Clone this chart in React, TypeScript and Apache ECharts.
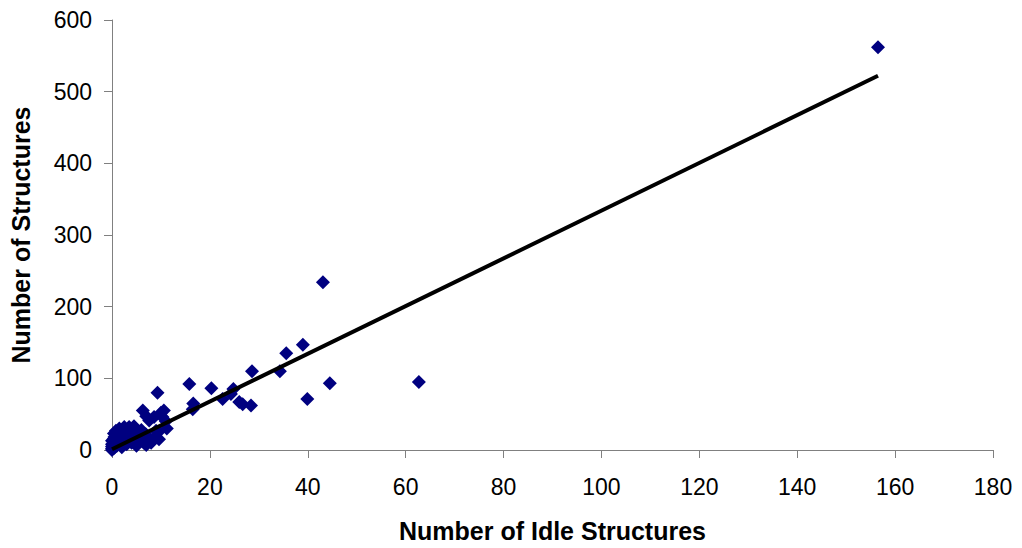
import React, { useEffect, useRef } from "react";
import * as echarts from "echarts";

// Number of Idle Structures (x) vs Number of Structures (y)
const idleStructures: number[] = [
  156.5, 43.1, 39.0, 35.6, 34.3, 28.6, 28.4, 44.5, 62.7, 39.9,
  15.8, 20.3, 24.8, 24.3, 22.6, 26.0, 26.7, 16.6, 16.5, 9.3,
  6.3, 10.0, 7.6, 8.6, 10.3, 7.0, 10.6, 11.0, 11.2, 9.0,
  9.6, 8.0, 7.0, 6.9, 6.0, 5.5, 5.0, 4.9, 4.5, 4.0,
  3.5, 3.5, 3.0, 3.0, 2.5, 2.5, 2.0, 2.0, 2.0, 1.5,
  1.5, 1.0, 1.0, 1.0, 0.8, 0.5, 0.5, 0.4, 0.3, 0.0,
  0.0, 0.0, 0.0, 0.0, 6.5, 8.5, 5.0, 4.0, 3.0, 1.0,
  9.5, 7.5, 2.0, 0.5, 6.0,
];
const totalStructures: number[] = [
  562, 234, 147, 135, 110, 110, 62, 93, 95, 71,
  92, 86, 85, 78, 71, 67, 64, 65, 57, 80,
  55, 52, 41, 46, 46, 47, 55, 40, 30, 27,
  15, 10, 7, 22, 19, 12, 16, 27, 33, 20,
  32, 14, 25, 8, 32, 11, 27, 15, 4, 30,
  9, 25, 13, 6, 27, 18, 3, 23, 15, 13,
  0, 2, 5, 8, 10, 15, 6, 10, 18, 20,
  25, 16, 22, 10, 28,
];

// Linear trend line
const trendSlope = 3.33;
const trendIntercept = 1;
const trendXRange: number[] = [0, 156.5];

const xTicks = { min: 0, max: 180, interval: 20 };
const yTicks = { min: 0, max: 600, interval: 100 };

export default function App() {
  const ref = useRef<HTMLDivElement>(null);
  useEffect(() => {
    if (!ref.current) return;
    const chart = echarts.init(ref.current, undefined, { renderer: "svg" });
    const points = idleStructures.map((x, i) => [x, totalStructures[i]]);
    const trend = trendXRange.map((x) => [x, trendSlope * x + trendIntercept]);
    const font = "'Liberation Sans', Arial, sans-serif";
    chart.setOption({
      animation: false,
      backgroundColor: "#ffffff",
      grid: { left: 111, top: 20, width: 882, height: 433, containLabel: false },
      xAxis: {
        type: "value",
        min: xTicks.min,
        max: xTicks.max,
        interval: xTicks.interval,
        name: "Number of Idle Structures",
        nameLocation: "middle",
        nameGap: 68,
        nameTextStyle: { fontFamily: font, fontSize: 25, fontWeight: "bold", color: "#000" },
        axisLine: { show: true, lineStyle: { color: "#808080", width: 1 } },
        axisTick: { show: true, length: 8, lineStyle: { color: "#808080" } },
        axisLabel: { fontFamily: font, fontSize: 23, color: "#000", margin: 25 },
        splitLine: { show: false },
      },
      yAxis: {
        type: "value",
        min: yTicks.min,
        max: yTicks.max,
        interval: yTicks.interval,
        name: "Number of Structures",
        nameLocation: "middle",
        nameGap: 79,
        nameTextStyle: { fontFamily: font, fontSize: 25, fontWeight: "bold", color: "#000" },
        axisLine: { show: true, lineStyle: { color: "#808080", width: 1 } },
        axisTick: { show: true, length: 8, lineStyle: { color: "#808080" } },
        axisLabel: { fontFamily: font, fontSize: 23, color: "#000", margin: 20 },
        splitLine: { show: false },
      },
      series: [
        {
          type: "scatter",
          data: points,
          symbol: "diamond",
          symbolSize: 14,
          itemStyle: { color: "#000080", opacity: 1 },
          z: 2,
        },
        {
          type: "line",
          data: trend,
          symbol: "none",
          lineStyle: { color: "#000000", width: 4 },
          z: 3,
        },
      ],
    });
    return () => chart.dispose();
  }, []);
  return (
    <div
      ref={ref}
      style={{ position: "fixed", left: 0, top: 0, width: 1022, height: 548 }}
    />
  );
}
